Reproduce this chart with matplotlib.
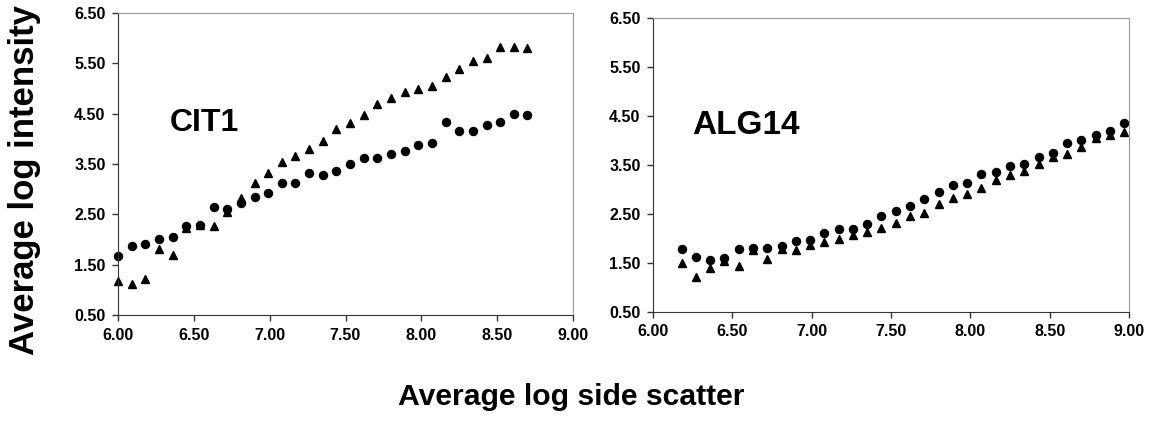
import numpy as np
import matplotlib.pyplot as plt

# CIT1 panel
x_cit1 = [6.00, 6.09, 6.18, 6.27, 6.36, 6.45, 6.54, 6.63, 6.72, 6.81, 6.90,
          6.99, 7.08, 7.17, 7.26, 7.35, 7.44, 7.53, 7.62, 7.71, 7.80, 7.89,
          7.98, 8.07, 8.16, 8.25, 8.34, 8.43, 8.52, 8.61, 8.70]
cit1_circ = [1.68, 1.87, 1.91, 2.01, 2.04, 2.27, 2.29, 2.64, 2.60, 2.72, 2.85,
             2.93, 3.13, 3.13, 3.33, 3.29, 3.36, 3.50, 3.62, 3.62, 3.70, 3.76,
             3.88, 3.91, 4.33, 4.16, 4.15, 4.27, 4.34, 4.49, 4.47]
cit1_tri = [1.18, 1.11, 1.21, 1.82, 1.69, 2.22, 2.28, 2.27, 2.55, 2.82, 3.12,
            3.32, 3.54, 3.65, 3.80, 3.95, 4.19, 4.31, 4.48, 4.69, 4.82, 4.93,
            5.00, 5.05, 5.23, 5.39, 5.54, 5.60, 5.82, 5.82, 5.80]

# ALG14 panel
x_alg14 = [6.18, 6.27, 6.36, 6.45, 6.54, 6.63, 6.72, 6.81, 6.90, 6.99, 7.08,
           7.17, 7.26, 7.35, 7.44, 7.53, 7.62, 7.71, 7.80, 7.89, 7.98, 8.07,
           8.16, 8.25, 8.34, 8.43, 8.52, 8.61, 8.70, 8.79, 8.88, 8.97]
alg14_circ = [1.78, 1.63, 1.57, 1.61, 1.78, 1.80, 1.80, 1.84, 1.95, 1.97, 2.12,
              2.19, 2.19, 2.29, 2.46, 2.57, 2.66, 2.80, 2.94, 3.09, 3.14, 3.31,
              3.36, 3.47, 3.52, 3.67, 3.75, 3.94, 4.01, 4.11, 4.20, 4.35]
alg14_tri = [1.50, 1.22, 1.40, 1.54, 1.44, 1.76, 1.59, 1.78, 1.76, 1.86, 1.93,
             1.98, 2.07, 2.14, 2.22, 2.32, 2.46, 2.53, 2.70, 2.82, 2.90, 3.04,
             3.19, 3.30, 3.38, 3.52, 3.67, 3.73, 3.86, 4.05, 4.11, 4.18]

xticks = [6.0, 6.5, 7.0, 7.5, 8.0, 8.5, 9.0]
yticks = [0.5, 1.5, 2.5, 3.5, 4.5, 5.5, 6.5]

plt.rcParams['font.family'] = ['Liberation Sans', 'DejaVu Sans']

fig = plt.figure(figsize=(11.52, 4.21), dpi=100)
ax1 = fig.add_axes([118/1152, 1 - 315/421, 455/1152, 302/421])
ax2 = fig.add_axes([653/1152, 1 - 312/421, 476/1152, 294/421])

for ax, xs, circ, tri in [(ax1, x_cit1, cit1_circ, cit1_tri),
                          (ax2, x_alg14, alg14_circ, alg14_tri)]:
    ax.plot(xs, circ, 'o', color='black', markersize=5.8, clip_on=False)
    ax.plot(xs, tri, '^', color='black', markersize=5.8, clip_on=False)
    ax.set_xlim(6.0, 9.0)
    ax.set_ylim(0.5, 6.5)
    ax.set_xticks(xticks)
    ax.set_yticks(yticks)
    ax.set_xticklabels(['%.2f' % t for t in xticks], fontweight='bold', fontsize=11.5)
    ax.set_yticklabels(['%.2f' % t for t in yticks], fontweight='bold', fontsize=11.5)
    ax.tick_params(direction='out', length=4, width=1, color='#333333', pad=5)
    ax.spines['left'].set_color('#333333')
    ax.spines['bottom'].set_color('#333333')
    ax.spines['top'].set_color('#999999')
    ax.spines['right'].set_color('#999999')

fig.text(204/1152, 1 - 123/421, 'CIT1', fontsize=23, fontweight='bold',
         ha='center', va='center')
fig.text(746/1152, 1 - 126/421, 'ALG14', fontsize=24, fontweight='bold',
         ha='center', va='center')

fig.text(571/1152, 1 - 397/421, 'Average log side scatter', fontsize=21.7,
         fontweight='bold', ha='center', va='center')
fig.text(25/1152, 1 - 180/421, 'Average log intensity', fontsize=25,
         fontweight='bold', ha='center', va='center', rotation=90)

fig.savefig('out.png', dpi=100)
